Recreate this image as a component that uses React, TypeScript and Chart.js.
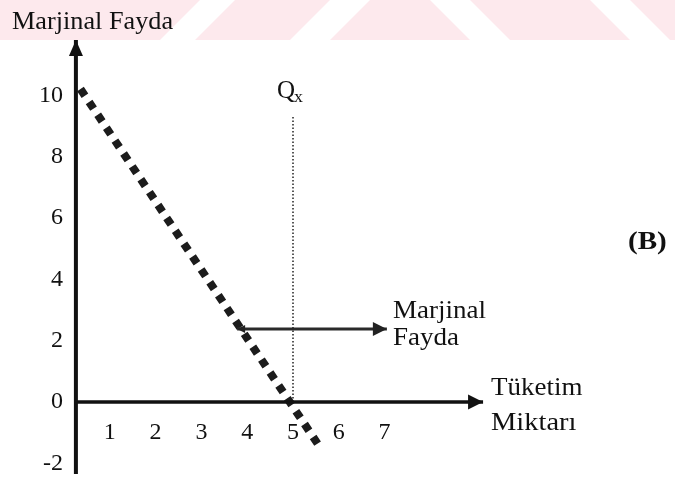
import React, { useEffect, useRef } from "react";
import { Chart, registerables } from "chart.js";

Chart.register(...registerables);

// ---- data ----
const X_TICKS = [1, 2, 3, 4, 5, 6, 7];
const Y_TICKS = [-2, 0, 2, 4, 6, 8, 10];
const X_RANGE = [0, 13];
const Y_RANGE = [-2.35, 11.8];

// marginal utility line (dotted, squares)
const MU_X = [0.36, 5.6];
const MU_Y = [10.2, -1.5];

// Qx vertical dotted line
const QX_X = [5, 5];
const QX_Y = [0, 9.35];

// horizontal arrow pointing to "Marjinal Fayda"
const MB_X = [3.78, 7.05];
const MB_Y = [2.38, 2.38];

// axes (origin drawn slightly right of the tick scale zero, as in the figure)
const YAXIS_X = [0.26, 0.26];
const YAXIS_Y = [-2.35, 11.8];
const XAXIS_X = [0.26, 9.15];
const XAXIS_Y = [0, 0];

const SERIF = '"Liberation Serif", "Times New Roman", serif';

function pts(xs: number[], ys: number[]) {
  return xs.map((x, i) => ({ x, y: ys[i] }));
}

function arrowHead(
  ctx: CanvasRenderingContext2D,
  tipX: number,
  tipY: number,
  dir: "up" | "right" | "left",
  len: number,
  half: number,
  color: string
) {
  ctx.save();
  ctx.fillStyle = color;
  ctx.beginPath();
  if (dir === "up") {
    ctx.moveTo(tipX, tipY);
    ctx.lineTo(tipX - half, tipY + len);
    ctx.lineTo(tipX + half, tipY + len);
  } else if (dir === "right") {
    ctx.moveTo(tipX, tipY);
    ctx.lineTo(tipX - len, tipY - half);
    ctx.lineTo(tipX - len, tipY + half);
  } else {
    ctx.moveTo(tipX, tipY);
    ctx.lineTo(tipX + len, tipY - half);
    ctx.lineTo(tipX + len, tipY + half);
  }
  ctx.closePath();
  ctx.fill();
  ctx.restore();
}

function stretchText(
  ctx: CanvasRenderingContext2D,
  text: string,
  x: number,
  y: number,
  font: string,
  sx: number
) {
  ctx.save();
  ctx.font = font;
  ctx.fillStyle = "#111";
  ctx.textAlign = "left";
  ctx.textBaseline = "alphabetic";
  ctx.translate(x, y);
  ctx.scale(sx, 1);
  ctx.fillText(text, 0, 0);
  ctx.restore();
}

const decorPlugin = {
  id: "decor",
  beforeDraw(chart: any) {
    const ctx: CanvasRenderingContext2D = chart.ctx;
    const w = chart.width;
    ctx.save();
    ctx.fillStyle = "#ffffff";
    ctx.fillRect(0, 0, w, chart.height);
    // faint pink watermark band at the top
    ctx.fillStyle = "rgb(253, 233, 237)";
    ctx.fillRect(0, 0, w, 40);
    ctx.fillStyle = "#ffffff";
    const stripes = [
      [160, 195, 200, 235],
      [290, 330, 330, 370],
      [470, 510, 430, 470],
      [630, 670, 590, 630],
    ];
    for (const [b0, b1, t0, t1] of stripes) {
      ctx.beginPath();
      ctx.moveTo(b0, 40);
      ctx.lineTo(b1, 40);
      ctx.lineTo(t1, 0);
      ctx.lineTo(t0, 0);
      ctx.closePath();
      ctx.fill();
    }
    ctx.restore();
  },
  afterDraw(chart: any) {
    const ctx: CanvasRenderingContext2D = chart.ctx;
    const xs = chart.scales.x;
    const ys = chart.scales.y;
    const px = (v: number) => xs.getPixelForValue(v);
    const py = (v: number) => ys.getPixelForValue(v);

    // arrowheads
    arrowHead(ctx, px(YAXIS_X[1]), py(YAXIS_Y[1]), "up", 16, 7, "#111");
    arrowHead(ctx, px(XAXIS_X[1]), py(XAXIS_Y[1]), "right", 15, 7.5, "#111");
    arrowHead(ctx, px(MB_X[1]), py(MB_Y[1]), "right", 14, 7, "#222");
    arrowHead(ctx, px(MB_X[0]), py(MB_Y[0]), "left", 8, 4, "#222");

    const f25 = `25px ${SERIF}`;
    stretchText(ctx, "Marjinal Fayda", 12, 29, f25, 1.05);

    // Qx label
    stretchText(ctx, "Q", 277, 98, f25, 1.0);
    stretchText(ctx, "x", 294, 102, `17px ${SERIF}`, 1.05);

    stretchText(ctx, "Marjinal", 393, 318, f25, 1.08);
    stretchText(ctx, "Fayda", 393, 345, f25, 1.08);

    stretchText(ctx, "Tüketim", 491, 395, f25, 1.08);
    stretchText(ctx, "Miktarı", 491, 430, f25, 1.14);

    stretchText(ctx, "(B)", 628, 249, `bold 26px ${SERIF}`, 1.12);
  },
};

export default function App() {
  const ref = useRef<HTMLCanvasElement | null>(null);

  useEffect(() => {
    document.body.style.margin = "0";
    const canvas = ref.current;
    if (!canvas) return;

    const line = (data: any, color: string, width: number, dash: number[]) => ({
      data,
      showLine: true,
      borderColor: color,
      backgroundColor: color,
      borderWidth: width,
      borderDash: dash,
      borderCapStyle: "butt",
      pointRadius: 0,
      pointHoverRadius: 0,
      fill: false,
      clip: false,
    });

    const chart = new Chart(canvas, {
      type: "scatter",
      data: {
        datasets: [
          line(pts(YAXIS_X, YAXIS_Y), "#111", 4, []),
          line(pts(XAXIS_X, XAXIS_Y), "#111", 3.5, []),
          line(pts(QX_X, QX_Y), "#222", 1.5, [1.5, 2]),
          line(pts(MB_X, MB_Y), "#2a2a2a", 3, []),
          line(pts(MU_X, MU_Y), "#1c1c1c", 8, [8, 7.5]),
        ] as any,
      },
      options: {
        responsive: false,
        animation: false,
        devicePixelRatio: 1,
        layout: { padding: { top: 40, bottom: 5, left: 0, right: 15.6 } },
        plugins: {
          legend: { display: false },
          tooltip: { enabled: false },
          title: { display: false },
        },
        scales: {
          x: {
            type: "linear",
            min: X_RANGE[0],
            max: X_RANGE[1],
            position: { y: 0 } as any,
            grid: { display: false, drawTicks: false },
            border: { display: false },
            ticks: {
              color: "#111",
              font: { family: SERIF, size: 24 },
              padding: 16.5,
              autoSkip: false,
              maxRotation: 0,
            },
            afterBuildTicks: (s: any) => {
              s.ticks = X_TICKS.map((v) => ({ value: v }));
            },
            afterFit: (s: any) => {
              s.height = 0;
              s.paddingTop = 0;
              s.paddingBottom = 0;
              s.paddingLeft = 0;
              s.paddingRight = 0;
            },
          },
          y: {
            type: "linear",
            min: Y_RANGE[0],
            max: Y_RANGE[1],
            position: "left",
            grid: { display: false, drawTicks: false },
            border: { display: false },
            ticks: {
              color: "#111",
              font: { family: SERIF, size: 24 },
              padding: 1,
              autoSkip: false,
            },
            afterBuildTicks: (s: any) => {
              s.ticks = Y_TICKS.map((v) => ({ value: v }));
            },
            afterFit: (s: any) => {
              s.width = 64;
              s.paddingTop = 0;
              s.paddingBottom = 0;
            },
          },
        },
      } as any,
      plugins: [decorPlugin],
    });

    return () => chart.destroy();
  }, []);

  return (
    <div style={{ width: 675, height: 479 }}>
      <canvas ref={ref} width={675} height={479} style={{ display: "block" }} />
    </div>
  );
}
